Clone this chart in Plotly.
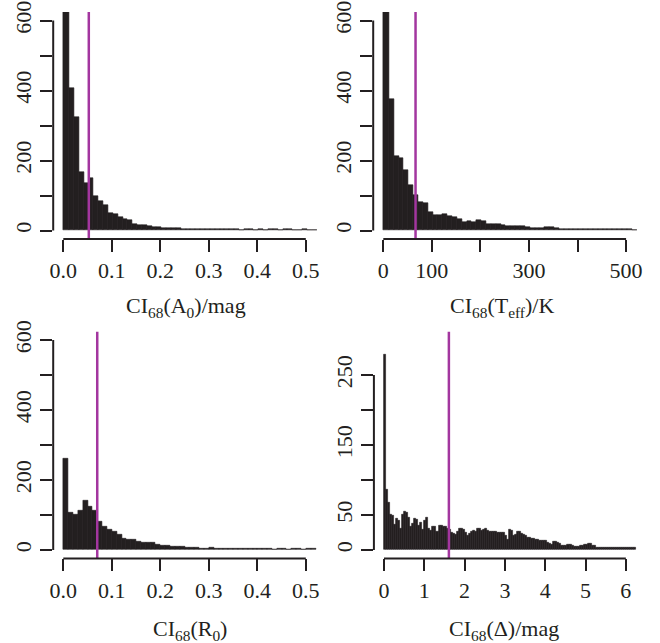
import plotly.graph_objects as go

# ---------------- data ----------------
# Panel 1: CI68(A0)/mag  -- first bin [0, a0_first_edge], then uniform bins
a0_first_edge = 0.0125
a0_bin_width = 0.01
a0_counts = [680, 408, 324, 167, 135, 150, 98, 84, 72, 49, 46, 39, 33, 30, 18, 16,
             15, 13, 11, 10, 8, 7, 7, 6, 5, 5, 4, 4, 3, 4, 4, 3, 3, 4, 3, 3, 2, 3,
             3, 2, 3, 2, 3, 3, 2, 3, 3, 2, 2, 3, 2, 2]
a0_median = 0.0526

# Panel 2: CI68(Teff)/K
teff_first_edge = 12
teff_bin_width = 10
teff_counts = [700, 376, 212, 208, 172, 130, 100, 80, 78, 52, 45, 43, 47, 40, 38, 33,
               23, 26, 24, 30, 28, 19, 18, 17, 15, 14, 13, 14, 14, 9, 8, 8, 8, 9, 9,
               7, 5, 4, 4, 4, 3, 4, 3, 3, 3, 4, 3, 3, 3, 3, 3, 2]
teff_median = 66.4

# Panel 3: CI68(R0)
r0_first_edge = 0.0105
r0_bin_width = 0.01
r0_counts = [260, 108, 101, 114, 140, 124, 114, 80, 68, 58, 52, 43, 33, 29, 31, 24,
             21, 22, 20, 15, 13, 12, 11, 10, 9, 8, 7, 6, 5, 5, 6, 4, 4, 4, 3, 4, 4,
             3, 3, 3, 3, 4, 3, 2, 3, 3, 2, 3, 3, 2, 3, 4]
r0_median = 0.0700

# Panel 4: CI68(Delta)/mag
dl_first_edge = 0.05
dl_bin_width = 0.05
dl_counts = [279, 87, 68, 51, 49, 36, 45, 42, 31, 50, 55, 54, 47, 33, 38, 45, 44, 35,
             39, 29, 42, 46, 30, 28, 33, 34, 27, 35, 35, 34, 34, 30, 29, 25, 23, 22,
             26, 30, 30, 29, 25, 21, 24, 27, 28, 26, 30, 30, 28, 29, 30, 28, 26, 26,
             27, 26, 25, 25, 25, 25, 20, 15, 29, 28, 21, 22, 26, 26, 23, 22, 21, 18,
             18, 17, 16, 15, 15, 14, 14, 13, 13, 11, 9, 8, 12, 12, 11, 9, 7, 7, 7, 8,
             8, 6, 5, 5, 5, 7, 7, 8, 8, 9, 9, 6, 6, 4, 4, 4, 3, 3, 3, 3, 3, 4, 3, 4,
             4, 3, 3, 3, 3, 3, 3, 3, 3]
dl_median = 1.61

# axis ticks
x_ticks_small = [0.0, 0.1, 0.2, 0.3, 0.4, 0.5]
x_labels_small = ["0.0", "0.1", "0.2", "0.3", "0.4", "0.5"]
x_ticks_teff = [0, 100, 200, 300, 400, 500]
x_labels_teff = ["0", "100", "", "300", "", "500"]
x_ticks_dl = [0, 1, 2, 3, 4, 5, 6]
x_labels_dl = ["0", "1", "2", "3", "4", "5", "6"]
y_ticks_600 = [0, 100, 200, 300, 400, 500, 600]
y_labels_600 = ["0", "", "200", "", "400", "", "600"]
y_ticks_250 = [0, 50, 100, 150, 200, 250]
y_labels_250 = ["0", "50", "", "150", "", "250"]

titles = ["CI<sub>68</sub>(A<sub>0</sub>)/mag",
          "CI<sub>68</sub>(T<sub>eff</sub>)/K",
          "CI<sub>68</sub>(R<sub>0</sub>)",
          "CI<sub>68</sub>(Δ)/mag"]

# ---------------- styling ----------------
W, H = 660, 643
INK = "#231f20"
MAG = "#a3369f"
FONT = "Liberation Serif"
FS = 22
TICKLEN = 12


def bars(first_edge, width, counts):
    edges = [0.0, first_edge]
    for _ in range(len(counts) - 1):
        edges.append(edges[-1] + width)
    centers = [(edges[i] + edges[i + 1]) / 2 for i in range(len(counts))]
    widths = [edges[i + 1] - edges[i] for i in range(len(counts))]
    return centers, widths


panels = [
    dict(data=(a0_first_edge, a0_bin_width, a0_counts), med=a0_median,
         xlim=(0, 0.52), ylim=(0, 600), xt=(x_ticks_small, x_labels_small),
         yt=(y_ticks_600, y_labels_600), px=(53.2, 325.6), py=(12.1, 238.9),
         title_xy=(186, 307)),
    dict(data=(teff_first_edge, teff_bin_width, teff_counts), med=teff_median,
         xlim=(0, 520), ylim=(0, 600), xt=(x_ticks_teff, x_labels_teff),
         yt=(y_ticks_600, y_labels_600), px=(373.2, 645.9), py=(12.1, 238.9),
         title_xy=(502, 307)),
    dict(data=(r0_first_edge, r0_bin_width, r0_counts), med=r0_median,
         xlim=(0, 0.52), ylim=(0, 600), xt=(x_ticks_small, x_labels_small),
         yt=(y_ticks_600, y_labels_600), px=(53.2, 325.6), py=(331.6, 558.4),
         title_xy=(190, 630)),
    dict(data=(dl_first_edge, dl_bin_width, dl_counts), med=dl_median,
         xlim=(0, 6.25), ylim=(0, 300), xt=(x_ticks_dl, x_labels_dl),
         yt=(y_ticks_250, y_labels_250), px=(373.9, 646.0), py=(331.6, 558.4),
         title_xy=(504, 630)),
]

fig = go.Figure()
annotations = []
shapes = []
layout = {}

for i, p in enumerate(panels, start=1):
    sfx = "" if i == 1 else str(i)
    xa, ya = "x" + sfx, "y" + sfx
    centers, widths = bars(*p["data"])
    fig.add_trace(go.Bar(x=centers, y=p["data"][2], width=widths,
                         marker=dict(color=INK, line=dict(color=INK, width=0.6)),
                         xaxis=xa, yaxis=ya, showlegend=False, hoverinfo="skip"))
    x0, x1 = p["xlim"]
    y0, y1 = p["ylim"]
    dx, dy = 0.04 * (x1 - x0), 0.04 * (y1 - y0)
    xr = (x0 - dx, x1 + dx)
    yr = (y0 - dy, y1 + dy)
    # median line, drawn through the panel's own axes
    fig.add_trace(go.Scatter(x=[p["med"], p["med"]], y=[yr[0], yr[1]], mode="lines",
                             line=dict(color=MAG, width=2.5), xaxis=xa, yaxis=ya,
                             showlegend=False, hoverinfo="skip"))
    axis_font = dict(family=FONT, size=FS, color=INK)
    left, right = p["px"]
    top, bottom = p["py"]
    layout["xaxis" + sfx] = dict(
        domain=[left / W, right / W], anchor=ya, automargin=False,
        range=list(xr), showgrid=False, zeroline=False, showline=False,
        ticks="outside", ticklen=TICKLEN, tickwidth=2, tickcolor=INK,
        tickvals=p["xt"][0], ticktext=p["xt"][1], tickfont=axis_font,
        fixedrange=True)
    layout["yaxis" + sfx] = dict(
        domain=[1 - bottom / H, 1 - top / H], anchor=xa, automargin=False,
        range=list(yr), showgrid=False, zeroline=False, showline=False,
        ticks="outside", ticklen=TICKLEN, tickwidth=2, tickcolor=INK,
        tickvals=p["yt"][0], ticktext=p["yt"][1], tickfont=axis_font,
        tickangle=-90, fixedrange=True)

    # same linear transform as the panel axes: data -> figure fraction
    def fx(v, xr=xr, left=left, right=right):
        return (left + (v - xr[0]) / (xr[1] - xr[0]) * (right - left)) / W

    def fy(v, yr=yr, top=top, bottom=bottom):
        return 1 - (bottom - (v - yr[0]) / (yr[1] - yr[0]) * (bottom - top)) / H

    # R-style axis lines: span from first to last tick only
    shapes.append(dict(type="line", xref="paper", yref="paper",
                       x0=fx(p["xt"][0][0]), x1=fx(p["xt"][0][-1]),
                       y0=1 - bottom / H, y1=1 - bottom / H,
                       line=dict(color=INK, width=2)))
    shapes.append(dict(type="line", xref="paper", yref="paper",
                       x0=left / W, x1=left / W,
                       y0=fy(p["yt"][0][0]), y1=fy(p["yt"][0][-1]),
                       line=dict(color=INK, width=2)))
    tx, ty = p["title_xy"]
    annotations.append(dict(text=titles[i - 1], xref="paper", yref="paper",
                            x=tx / W, y=1 - ty / H, xanchor="center", yanchor="middle",
                            showarrow=False, font=dict(family=FONT, size=FS, color=INK)))

fig.update_layout(width=W, height=H, margin=dict(l=0, r=0, t=0, b=0),
                  paper_bgcolor="white", plot_bgcolor="white",
                  bargap=0, shapes=shapes, annotations=annotations, **layout)

fig.write_html("out.html")
